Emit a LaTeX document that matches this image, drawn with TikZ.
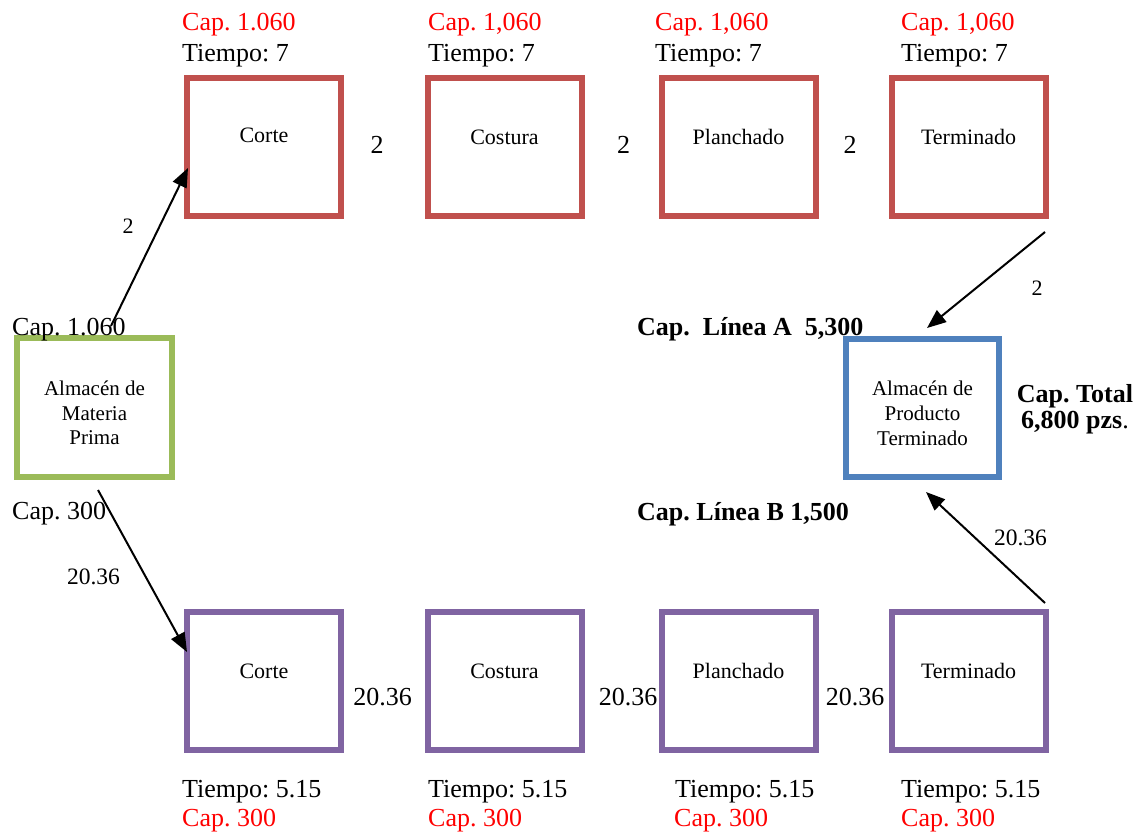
\documentclass[tikz,border=0pt]{standalone}
\usepackage{fontspec}
\setmainfont{Liberation Serif}
\usetikzlibrary{arrows.meta}
\definecolor{lineAred}{HTML}{C0504D}
\definecolor{lineBpurple}{HTML}{8064A2}
\definecolor{storeGreen}{HTML}{9BBB59}
\definecolor{storeBlue}{HTML}{4F81BD}
\frenchspacing
\begin{document}
\begin{tikzpicture}[x=1pt,y=-1pt,
  procbox/.style={draw, line width=6pt, minimum width=154pt, minimum height=138pt, inner sep=0pt},
  lbl/.style={inner sep=0pt, anchor=base west, font=\fontsize{26}{30}\selectfont},
  caplbl/.style={lbl, text=red},
  boxtxt/.style={inner sep=0pt, anchor=base, font=\fontsize{22}{26}\selectfont},
  numlbl/.style={inner sep=0pt, anchor=base, font=\fontsize{26}{30}\selectfont},
  arrlbl/.style={inner sep=0pt, anchor=base, font=\fontsize{23.5}{28}\selectfont},
  boldlbl/.style={inner sep=0pt, anchor=base west, font=\fontsize{26}{30}\selectfont\bfseries},
  flow/.style={line width=2pt, -{Triangle[length=19pt,width=15pt]}}
]
\fill[white] (0,0) rectangle (1138,833);
\useasboundingbox (0,0) rectangle (1138,833);

% Line A (top row)
\node[procbox, draw=lineAred] (a1) at (264,147) {};
\node[procbox, draw=lineAred] (a2) at (504.5,147) {};
\node[procbox, draw=lineAred] (a3) at (738.5,147) {};
\node[procbox, draw=lineAred] (a4) at (968.5,147) {};
\node[boxtxt] (a1t) at (264,142) {Corte};
\node[boxtxt] (a2t) at (504.5,144) {Costura};
\node[boxtxt] (a3t) at (738.5,144) {Planchado};
\node[boxtxt] (a4t) at (968.5,144) {Terminado};

\node[caplbl] (a1c) at (182,30.7) {Cap. 1.060};
\node[caplbl] (a2c) at (428,30.7) {Cap. 1,060};
\node[caplbl] (a3c) at (655,30.7) {Cap. 1,060};
\node[caplbl] (a4c) at (901,30.7) {Cap. 1,060};
\node[lbl] (a1tt) at (182,61) {Tiempo: 7};
\node[lbl] (a2tt) at (428,61) {Tiempo: 7};
\node[lbl] (a3tt) at (655,61) {Tiempo: 7};
\node[lbl] (a4tt) at (901,61) {Tiempo: 7};

\node[numlbl] (a12) at (377,153) {2};
\node[numlbl] (a23) at (623.5,153) {2};
\node[numlbl] (a34) at (850,153) {2};

% Line B (bottom row)
\node[procbox, draw=lineBpurple] (b1) at (264,681) {};
\node[procbox, draw=lineBpurple] (b2) at (504.5,681) {};
\node[procbox, draw=lineBpurple] (b3) at (738.5,681) {};
\node[procbox, draw=lineBpurple] (b4) at (968.5,681) {};
\node[boxtxt] (b1t) at (264,678) {Corte};
\node[boxtxt] (b2t) at (504.5,678) {Costura};
\node[boxtxt] (b3t) at (738.5,678) {Planchado};
\node[boxtxt] (b4t) at (968.5,678) {Terminado};

\node[lbl] (b1tt) at (182,797) {Tiempo: 5.15};
\node[lbl] (b2tt) at (428,797) {Tiempo: 5.15};
\node[lbl] (b3tt) at (675,797) {Tiempo: 5.15};
\node[lbl] (b4tt) at (901,797) {Tiempo: 5.15};
\node[caplbl] (b1c) at (182,826.5) {Cap. 300};
\node[caplbl] (b2c) at (428,826.5) {Cap. 300};
\node[caplbl] (b3c) at (674,826.5) {Cap. 300};
\node[caplbl] (b4c) at (901,826.5) {Cap. 300};

\node[numlbl] (b12) at (382.5,705.5) {20.36};
\node[numlbl] (b23) at (628,705.5) {20.36};
\node[numlbl] (b34) at (855,705.5) {20.36};

% Raw material store
\node[procbox, draw=storeGreen, minimum width=155pt, minimum height=139pt] (mp) at (94.5,407.5) {};
\node[boxtxt, font=\fontsize{21}{25}\selectfont] (mp1) at (94.5,395) {Almacén de};
\node[boxtxt, font=\fontsize{21}{25}\selectfont] (mp2) at (94.5,420) {Materia};
\node[boxtxt, font=\fontsize{21}{25}\selectfont] (mp3) at (94.5,444.5) {Prima};
\node[lbl] (mpa) at (12,335) {Cap. 1.060};
\node[lbl] (mpb) at (12,519) {Cap. 300};

% Finished product store
\node[procbox, draw=storeBlue, minimum width=153pt, minimum height=138pt] (pt) at (922.5,408) {};
\node[boxtxt, font=\fontsize{21}{25}\selectfont] (pt1) at (922.5,395) {Almacén de};
\node[boxtxt, font=\fontsize{21}{25}\selectfont] (pt2) at (922.5,420) {Producto};
\node[boxtxt, font=\fontsize{21}{25}\selectfont] (pt3) at (922.5,445) {Terminado};

\node[boldlbl] (capA) at (637,335) {Cap.\ \ Línea A\ \ 5,300};
\node[boldlbl] (capB) at (637,520) {Cap. Línea B 1,500};
\node[inner sep=0pt, anchor=base, font=\fontsize{26}{30}\selectfont\bfseries] (tot1) at (1075,402) {Cap. Total};
\node[inner sep=0pt, anchor=base, font=\fontsize{26}{30}\selectfont] (tot2) at (1075,428) {\textbf{6,800 pzs}.};

% Flow connectors
\coordinate (mpOutA) at (111,326);
\coordinate (a1In) at (188,168);
\coordinate (a4Out) at (1045,232);
\coordinate (ptInA) at (927,328);
\coordinate (mpOutB) at (98,490);
\coordinate (b1In) at (187,652);
\coordinate (b4Out) at (1045,603);
\coordinate (ptInB) at (926,492);

\draw[flow] (mpOutA) -- (a1In);
\draw[flow] (a4Out) -- (ptInA);
\draw[flow] (mpOutB) -- (b1In);
\draw[flow] (b4Out) -- (ptInB);

\node[arrlbl, font=\fontsize{22}{26}\selectfont] (fa1) at (128,233) {2};
\node[arrlbl, font=\fontsize{22}{26}\selectfont] (fa2) at (1037,295) {2};
\node[arrlbl] (fb1) at (93.5,584) {20.36};
\node[arrlbl] (fb2) at (1020.5,545) {20.36};
\end{tikzpicture}
\end{document}
